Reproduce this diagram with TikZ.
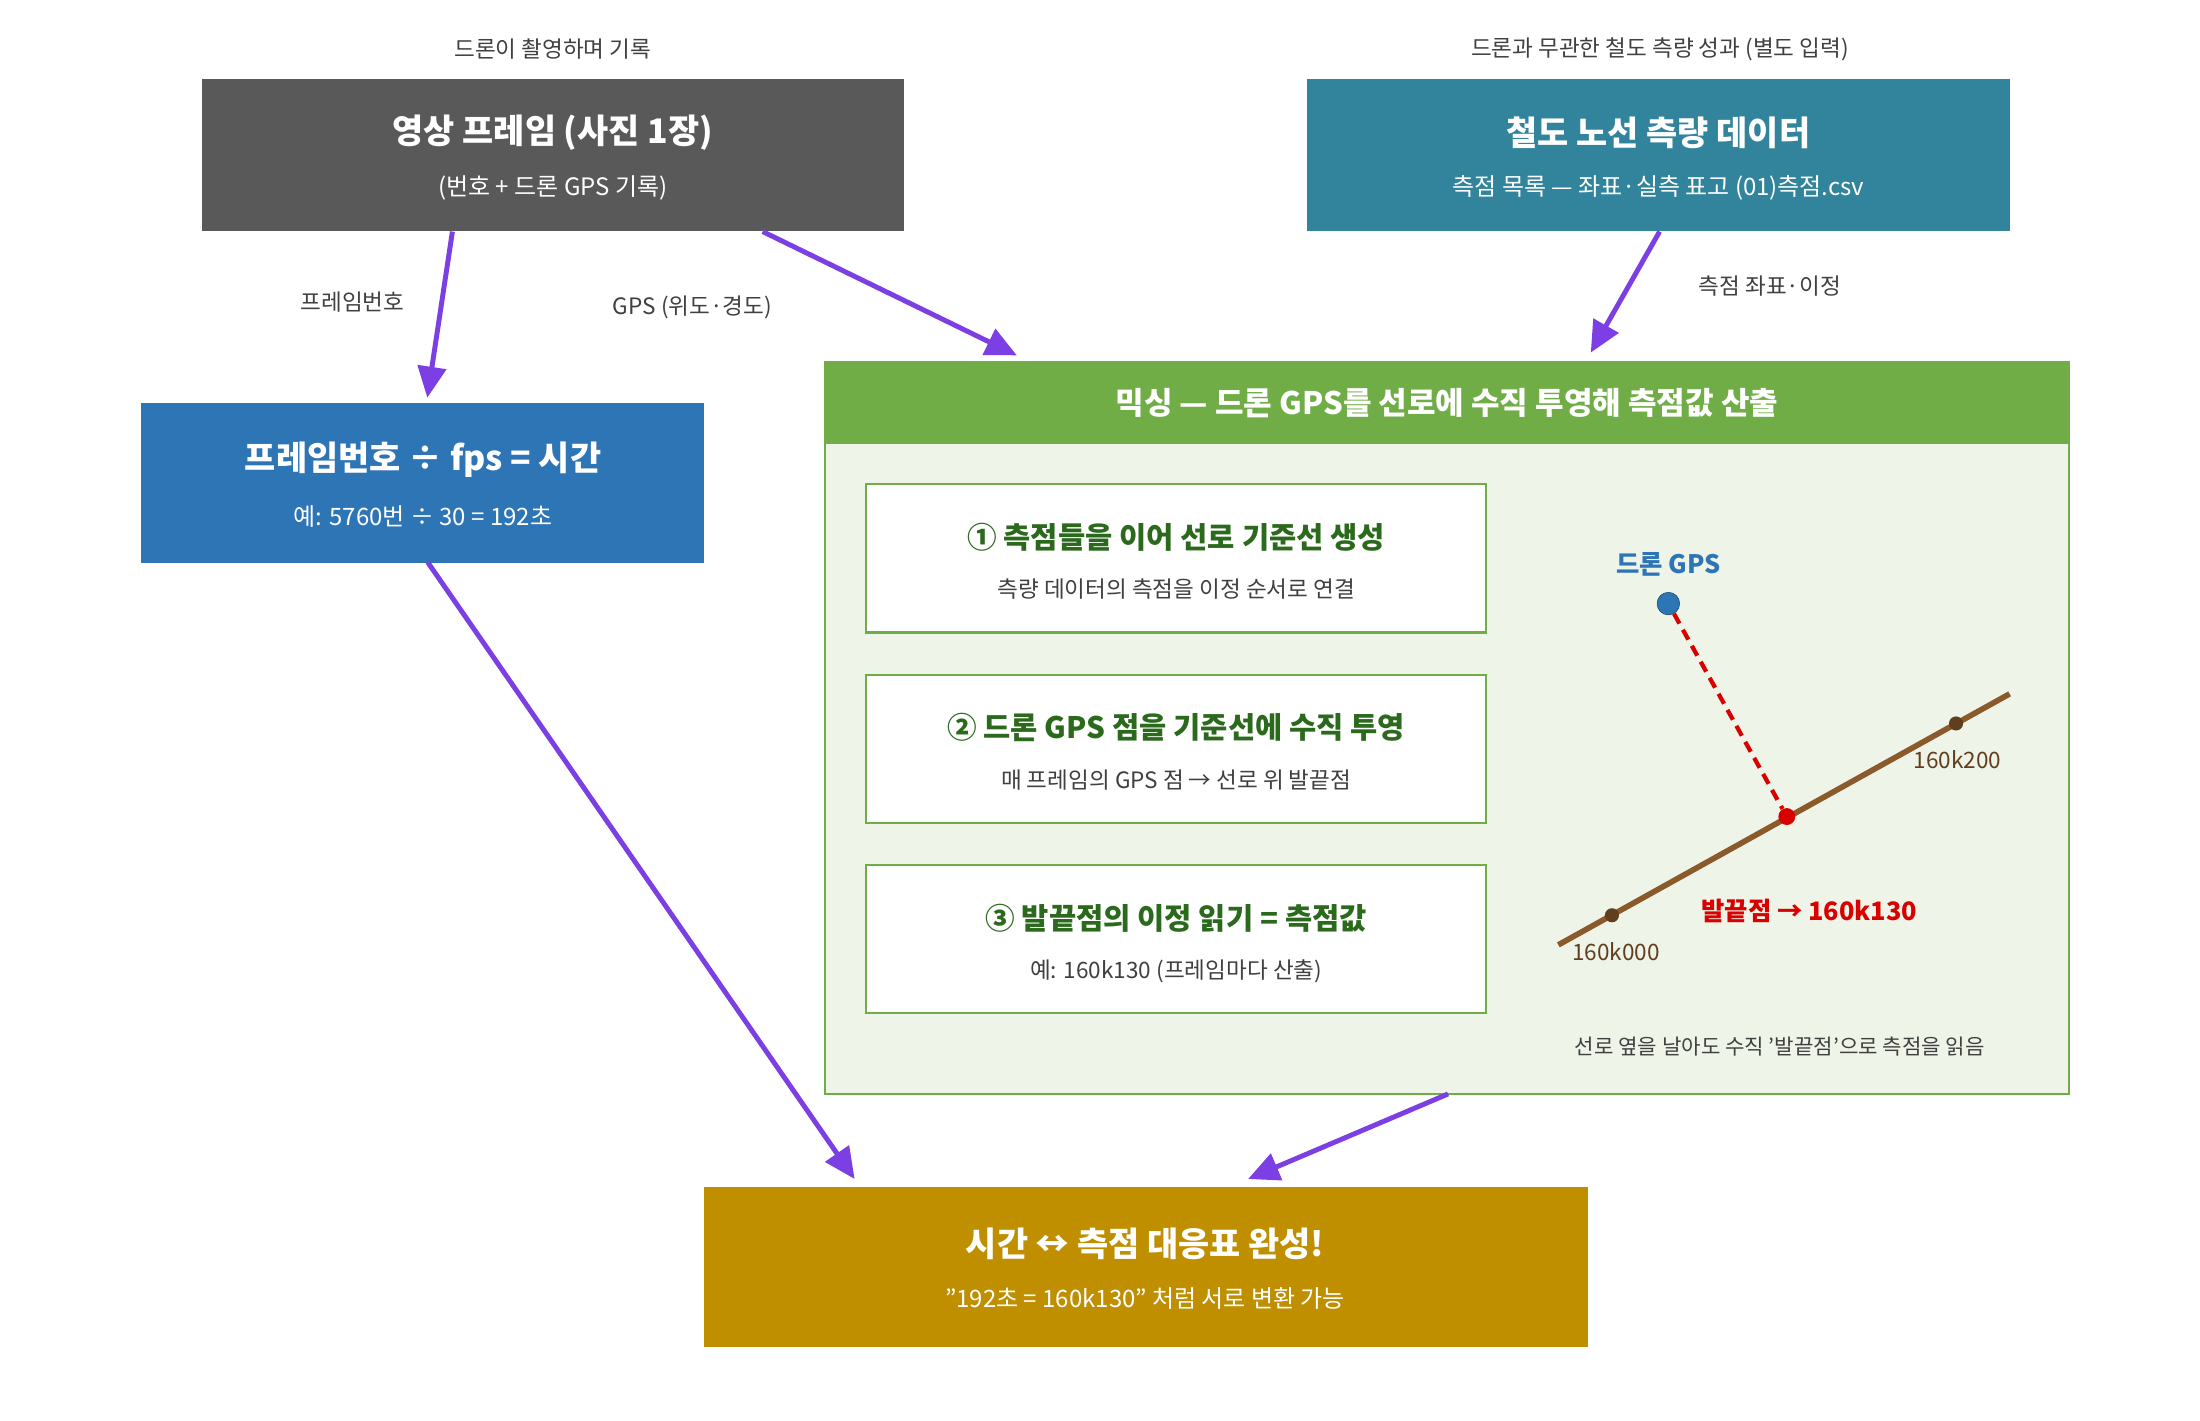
\documentclass[tikz,border=0pt]{standalone}
\usepackage{fontspec}
\setmainfont{Noto Sans CJK KR}
\usetikzlibrary{arrows.meta,calc}
\definecolor{gr}{HTML}{595959}
\definecolor{teal}{HTML}{31849B}
\definecolor{blu}{HTML}{2E75B6}
\definecolor{grn}{HTML}{70AD47}
\definecolor{lgrn}{HTML}{EFF4E9}
\definecolor{dgrn}{HTML}{2B6A1C}
\definecolor{gold}{HTML}{BF8F00}
\definecolor{purp}{HTML}{7B3FE4}
\definecolor{brn}{HTML}{8B5A2B}
\definecolor{txt}{HTML}{404040}
\begin{document}
\begin{tikzpicture}[x=1pt,y=-1pt,
 ttl/.style={text=white,font=\fontsize{24}{28}\selectfont\bfseries},
 sub/.style={text=white,font=\fontsize{17}{20}\selectfont},
 lab/.style={text=txt,font=\fontsize{16}{19}\selectfont},
 stepbox/.style={draw=grn,line width=1.5pt,fill=white,minimum width=440,minimum height=105,inner sep=0},
 stt/.style={text=dgrn,font=\fontsize{21}{25}\selectfont\bfseries},
 sts/.style={text=txt,font=\fontsize{16}{19}\selectfont},
 arr/.style={draw=purp,line width=3.5pt,-{Triangle[length=22pt,width=20pt]}}]
\useasboundingbox (0,0) rectangle (1560,1007);
% top boxes
\node[lab] (l1) at (392,35) {드론이 촬영하며 기록};
\fill[gr] (143,56) rectangle (641,164);
\node (b1) at (392,110) [minimum width=498,minimum height=108] {};
\node[ttl] (b1t) at (392,94) {영상 프레임 (사진 1장)};
\node[sub] (b1s) at (392,133) {(번호 + 드론 GPS 기록)};
\node[lab] (l2) at (1177,35) {드론과 무관한 철도 측량 성과 (별도 입력)};
\fill[teal] (927,56) rectangle (1425,164);
\node (b2) at (1176,110) [minimum width=498,minimum height=108] {};
\node[ttl] (b2t) at (1176,94) {철도 노선 측량 데이터};
\node[sub] (b2s) at (1176,133) {측점 목록 — 좌표·실측 표고 (01)측점.csv};
% box3
\fill[blu] (100,286) rectangle (499,399);
\node (b3) at (300,342) [minimum width=399,minimum height=113] {};
\node[ttl] (b3t) at (300,326) {프레임번호 ÷ fps = 시간};
\node[sub] (b3s) at (300,366) {예: 5760번 ÷ 30 = 192초};
% big box
\fill[lgrn,draw=grn,line width=1.5pt] (585,257) rectangle (1467,776);
\fill[grn] (585,257) rectangle (1467,315);
\node (mix) at (1026,516) [minimum width=882,minimum height=519] {};
\node[text=white,font=\fontsize{22}{26}\selectfont\bfseries] (mixt) at (1026,286) {믹싱 — 드론 GPS를 선로에 수직 투영해 측점값 산출};
\node[stepbox] (s1) at (834,396) {};
\node[stt] at (834,381) {① 측점들을 이어 선로 기준선 생성};
\node[sts] at (834,418) {측량 데이터의 측점을 이정 순서로 연결};
\node[stepbox] (s2) at (834,531) {};
\node[stt] at (834,516) {② 드론 GPS 점을 기준선에 수직 투영};
\node[sts] at (834,553) {매 프레임의 GPS 점 → 선로 위 발끝점};
\node[stepbox] (s3) at (834,666) {};
\node[stt] at (834,651) {③ 발끝점의 이정 읽기 = 측점값};
\node[sts] at (834,689) {예: 160k130 (프레임마다 산출)};
% projection diagram
\coordinate (r0) at (1105,670);
\coordinate (r1) at (1425,492);
\draw[brn,line width=4pt] (r0) -- (r1);
\node[circle,fill=brn!70!black,inner sep=0,minimum size=10] (p0) at (1143,649) {};
\node[circle,fill=brn!70!black,inner sep=0,minimum size=10] (p1) at (1387,513) {};
\node[text=brn!70!black,font=\fontsize{16}{19}\selectfont] at (1146,675) {160k000};
\node[text=brn!70!black,font=\fontsize{16}{19}\selectfont] at (1388,539) {160k200};
\node[circle,fill=red!85!black,inner sep=0,minimum size=12] (foot) at (1267,579) {};
\node[circle,fill=blu,draw=blu!60!black,inner sep=0,minimum size=16] (gps) at (1183,428) {};
\draw[red!85!black,line width=3pt,dash pattern=on 8pt off 5pt] (gps) -- (foot);
\node[text=blu,font=\fontsize{18}{21}\selectfont\bfseries] at (1183,400) {드론 GPS};
\node[text=red!85!black,font=\fontsize{18}{21}\selectfont\bfseries] at (1283,646) {발끝점 → 160k130};
\node[text=txt,font=\fontsize{15}{18}\selectfont] at (1262,742) {선로 옆을 날아도 수직 '발끝점'으로 측점을 읽음};
% bottom box
\fill[gold] (499,842) rectangle (1126,955);
\node (b4) at (812,898) [minimum width=627,minimum height=113] {};
\node[ttl] (b4t) at (812,882) {시간 ↔ 측점 대응표 완성!};
\node[sub] (b4s) at (812,921) {"192초 = 160k130" 처럼 서로 변환 가능};
% arrows
\draw[arr] ($(b1.south west)+(178,0)$) -- (303,282);
\node[lab] at (250,214) {프레임번호};
\draw[arr] ($(b1.south west)+(398,0)$) -- (721,252);
\node[lab] at (491,218) {GPS (위도·경도)};
\draw[arr] ($(b2.south west)+(250,0)$) -- (1128,250);
\node[lab] at (1255,203) {측점 좌표·이정};
\draw[arr] ($(b3.south west)+(203,0)$) -- (606,836);
\draw[arr] ($(mix.south west)+(442,0)$) -- (885,836);
\end{tikzpicture}
\end{document}
